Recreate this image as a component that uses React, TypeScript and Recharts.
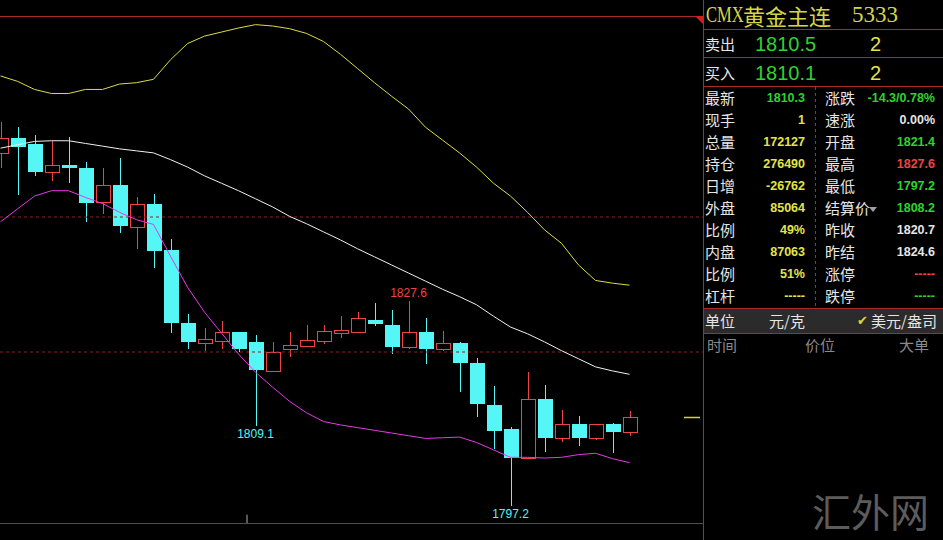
import React from 'react';
import {
  ComposedChart,
  Bar,
  Line,
  XAxis,
  YAxis,
  ReferenceLine,
  ReferenceDot,
} from 'recharts';

// candle values (index 0 is the clipped candle at the left edge)
const openPx = [1849.5, 1851.7, 1850.8, 1846.7, 1847.7, 1847.3, 1842.2, 1844.7, 1838.5, 1842.0, 1835.1, 1824.3, 1821.4, 1821.7, 1822.9, 1821.5, 1817.2, 1820.5, 1820.9, 1821.6, 1822.8, 1823.0, 1824.8, 1824.0, 1820.8, 1822.9, 1820.5, 1821.3, 1818.4, 1812.1, 1808.6, 1804.3, 1813.0, 1807.3, 1809.4, 1807.3, 1809.4, 1808.2];
const highPx = [1854.1, 1853.4, 1852.1, 1851.2, 1851.9, 1848.2, 1847.2, 1848.8, 1843.0, 1843.4, 1836.7, 1825.7, 1823.5, 1824.6, 1823.0, 1822.5, 1821.5, 1822.9, 1824.0, 1824.0, 1825.3, 1825.9, 1827.3, 1826.2, 1827.6, 1825.1, 1823.1, 1821.5, 1819.1, 1815.0, 1808.9, 1817.1, 1815.1, 1811.4, 1810.5, 1809.4, 1809.5, 1811.2];
const lowPx = [1847.3, 1843.3, 1846.1, 1845.4, 1845.1, 1839.2, 1840.5, 1837.6, 1835.2, 1832.5, 1822.8, 1820.4, 1820.2, 1820.5, 1820.0, 1809.1, 1817.2, 1819.2, 1820.8, 1821.2, 1822.1, 1823.0, 1823.9, 1819.7, 1820.5, 1818.2, 1820.1, 1814.1, 1810.4, 1805.7, 1797.2, 1804.3, 1805.2, 1806.6, 1806.1, 1806.9, 1805.0, 1807.6];
const closePx = [1851.7, 1850.4, 1846.6, 1847.7, 1847.3, 1842.1, 1844.7, 1838.6, 1841.9, 1835.0, 1824.3, 1821.5, 1821.9, 1822.9, 1820.5, 1817.3, 1820.0, 1821.0, 1821.8, 1823.1, 1823.2, 1825.0, 1824.1, 1820.8, 1822.9, 1820.5, 1821.3, 1818.3, 1812.3, 1808.3, 1804.3, 1813.1, 1807.3, 1809.4, 1807.3, 1809.4, 1808.2, 1810.3];

// bollinger-style bands
const upperBand = [1860.9, 1860.1, 1858.9, 1858.3, 1858.3, 1858.9, 1858.9, 1859.7, 1859.9, 1860.4, 1863.3, 1865.7, 1866.8, 1867.4, 1868.0, 1868.5, 1868.3, 1867.9, 1867.2, 1866.0, 1864.1, 1862.0, 1859.9, 1857.9, 1856.0, 1853.3, 1851.4, 1849.5, 1847.4, 1845.0, 1843.1, 1840.7, 1838.1, 1836.1, 1832.9, 1830.6, 1830.2, 1829.9];
const midBand = [1850.2, 1850.7, 1851.2, 1851.3, 1851.3, 1850.9, 1850.5, 1850.1, 1849.8, 1849.5, 1848.5, 1847.4, 1846.1, 1845.0, 1843.9, 1842.7, 1841.5, 1840.1, 1839.0, 1837.8, 1836.6, 1835.3, 1834.1, 1832.9, 1831.7, 1830.5, 1829.3, 1828.2, 1827.0, 1825.3, 1823.7, 1822.7, 1821.5, 1820.2, 1819.0, 1817.8, 1817.2, 1816.7];
const lowerBand = [1839.3, 1841.2, 1843.1, 1843.9, 1843.9, 1842.9, 1842.0, 1840.7, 1839.6, 1838.9, 1834.2, 1829.6, 1825.9, 1822.8, 1819.7, 1817.0, 1814.8, 1812.7, 1811.0, 1809.7, 1809.2, 1808.8, 1808.4, 1808.0, 1807.6, 1807.2, 1807.3, 1807.4, 1806.6, 1805.5, 1804.4, 1804.4, 1804.3, 1804.4, 1804.8, 1805.0, 1804.2, 1803.6];

const gridLevels = [1840, 1820];
const extremeMarks = [
  { i: 24, v: 1827.6, side: 'top', up: true },
  { i: 15, v: 1809.1, side: 'bottom', up: false },
  { i: 30, v: 1797.2, side: 'bottom', up: false },
];
const lastPrice = 1810.3;
const sessionBreak = 14.5;

// quote panel text
const titleName = ['CMX', '黄金主连', '5333'];
const bidAsk = [
  { label: '卖出', price: '1810.5', qty: '2' },
  { label: '买入', price: '1810.1', qty: '2' },
];
const leftLabels = ['最新', '现手', '总量', '持仓', '日增', '外盘', '比例', '内盘', '比例', '杠杆'];
const leftValues = ['1810.3', '1', '172127', '276490', '-26762', '85064', '49%', '87063', '51%', '-----'];
const rightLabels = ['涨跌', '速涨', '开盘', '最高', '最低', '结算价', '昨收', '昨结', '涨停', '跌停'];
const rightValues = ['-14.3/0.78%', '0.00%', '1821.4', '1827.6', '1797.2', '1808.2', '1820.7', '1824.6', '-----', '-----'];

const RED = '#ec4444';
const CYAN = '#54f6f6';
const GREEN = '#2fd22f';
const YEL = '#e4e44a';
const WHITE = '#e6e6e6';
const FRAME = '#a82a2a';

const leftColors = [GREEN, YEL, YEL, YEL, YEL, YEL, YEL, YEL, YEL, YEL];
const rightColors = [GREEN, WHITE, GREEN, RED, GREEN, GREEN, WHITE, WHITE, RED, GREEN];

const CHART_W = 703;
const CHART_H = 540;
const STEP = 17;
const xDomain = [(0 - 0.5) / STEP, (CHART_W - 0.5) / STEP];
const yDomain = [1792.15, 1872.15];

const rows = openPx.map((o, i) => ({
  i,
  open: o,
  high: highPx[i],
  low: lowPx[i],
  close: closePx[i],
  range: [lowPx[i], highPx[i]],
  upper: upperBand[i],
  mid: midBand[i],
  lower: lowerBand[i],
}));

function Candle(props: any) {
  const { x, y, width, height, payload } = props;
  if (payload == null || height == null) return null;
  const { open, high, low, close } = payload;
  const k = height / (high - low);
  const yAt = (v: number) => y + (high - v) * k;
  const cx = Math.round(x + width / 2) + 0.5;
  const top = Math.round(yAt(Math.max(open, close)));
  const bottom = Math.round(yAt(Math.min(open, close)));
  const yHigh = Math.round(yAt(high));
  const yLow = Math.round(yAt(low));
  if (close >= open) {
    return (
      <g>
        <line x1={cx} x2={cx} y1={yHigh} y2={top} stroke={RED} />
        <line x1={cx} x2={cx} y1={bottom} y2={yLow} stroke={RED} />
        <rect x={cx - 7} y={top + 0.5} width={14} height={Math.max(bottom - top, 1)} fill="#000" stroke={RED} />
      </g>
    );
  }
  return (
    <g>
      <line x1={cx} x2={cx} y1={yHigh} y2={yLow} stroke={CYAN} />
      <rect x={cx - 7.5} y={top} width={15} height={Math.max(bottom - top, 2)} fill={CYAN} />
    </g>
  );
}

function T({ x, y, size, color, children, right, bold, family, style }: any) {
  const s: any = {
    position: 'absolute',
    top: y - size * 0.6,
    fontSize: size,
    lineHeight: `${size * 1.2}px`,
    color,
    whiteSpace: 'nowrap',
    fontWeight: bold ? 700 : 400,
    fontFamily: family || '"Noto Sans CJK SC", sans-serif',
    ...style,
  };
  if (right) s.right = 943 - x;
  else s.left = x;
  return <div style={s}>{children}</div>;
}

const NUM = '"Liberation Sans", Arial, sans-serif';

function Hline({ y, x1 = 703, x2 = 943, color = FRAME }: any) {
  return <div style={{ position: 'absolute', left: x1, top: y, width: x2 - x1, height: 1, background: color }} />;
}

export default function App() {
  return (
    <div
      style={{
        position: 'fixed',
        left: 0,
        top: 0,
        width: 943,
        height: 540,
        background: '#000',
        overflow: 'hidden',
        fontFamily: NUM,
      }}
    >
      <div style={{ position: 'absolute', left: 0, top: 0 }}>
        <ComposedChart
          width={CHART_W}
          height={CHART_H}
          data={rows}
          margin={{ top: 0, right: 0, bottom: 0, left: 0 }}
          style={{ fontFamily: NUM }}
        >
          <XAxis dataKey="i" type="number" domain={xDomain} hide allowDataOverflow />
          <YAxis type="number" domain={yDomain} hide allowDataOverflow />
          {gridLevels.map((g) => (
            <ReferenceLine key={g} y={g} stroke="#8e2020" strokeDasharray="3 3" />
          ))}
          <Bar dataKey="range" shape={Candle} barSize={15} isAnimationActive={false} />
          <Line type="linear" dataKey="upper" stroke="#dcdc48" strokeWidth={1} dot={false} isAnimationActive={false} />
          <Line type="linear" dataKey="mid" stroke="#f0f0f0" strokeWidth={1} dot={false} isAnimationActive={false} />
          <Line type="linear" dataKey="lower" stroke="#e838e8" strokeWidth={1} dot={false} isAnimationActive={false} />
          {extremeMarks.map((m) => (
            <ReferenceDot
              key={m.i}
              x={m.i}
              y={m.v}
              r={0}
              fill="none"
              stroke="none"
              label={{
                value: m.v.toFixed(1),
                position: m.side as any,
                offset: 4,
                fill: m.up ? RED : CYAN,
                fontSize: 12,
              }}
            />
          ))}
          <ReferenceLine
            segment={[
              { x: 40.2, y: lastPrice },
              { x: 41.15, y: lastPrice },
            ]}
            stroke="#d0d828"
            strokeWidth={1.5}
          />
          <ReferenceLine
            segment={[
              { x: sessionBreak, y: 1795.9 },
              { x: sessionBreak, y: 1794.6 },
            ]}
            stroke="#b0b0b0"
          />
        </ComposedChart>
      </div>

      {/* frame */}
      <Hline y={16} x1={0} x2={703} />
      <Hline y={523} x1={0} x2={703} />
      <div style={{ position: 'absolute', left: 703, top: 0, width: 1, height: 540, background: FRAME }} />
      <svg style={{ position: 'absolute', left: 0, top: 0 }} width={943} height={40}>
        <polygon points="695,16 703,16 703,24" fill="#d02020" />
      </svg>

      {/* title */}
      <T x={706} y={15} size={23} color="#d6d645" family='"Liberation Serif", serif' style={{ transform: 'scaleX(0.72)', transformOrigin: 'left center' }}>
        {titleName[0]}
      </T>
      <T x={743} y={15} size={22} color="#d6d645">{titleName[1]}</T>
      <T x={852} y={15} size={23} color="#d6d645" family='"Liberation Serif", serif'>{titleName[2]}</T>
      <Hline y={29} />

      {bidAsk.map((r, k) => (
        <React.Fragment key={r.label}>
          <T x={705} y={44 + k * 29} size={15} color={WHITE}>{r.label}</T>
          <T x={755} y={44 + k * 29} size={20} color={GREEN} family={NUM}>{r.price}</T>
          <T x={870} y={44 + k * 29} size={20} color={YEL} family={NUM}>{r.qty}</T>
          <Hline y={57 + k * 29} />
        </React.Fragment>
      ))}

      {leftLabels.map((l, k) => (
        <React.Fragment key={'l' + k}>
          <T x={705} y={98 + k * 22} size={15} color={WHITE}>{l}</T>
          <T x={805} y={98 + k * 22} size={12.5} color={leftColors[k]} family={NUM} bold right>
            {leftValues[k]}
          </T>
          <T x={825} y={98 + k * 22} size={15} color={WHITE}>{rightLabels[k]}</T>
          <T x={935} y={98 + k * 22} size={12.5} color={rightColors[k]} family={NUM} bold right>
            {rightValues[k]}
          </T>
        </React.Fragment>
      ))}
      <svg style={{ position: 'absolute', left: 0, top: 0 }} width={943} height={540}>
        <line x1={815.5} x2={815.5} y1={87} y2={308} stroke={FRAME} strokeDasharray="3 3" />
        <polygon points="869,207 877,207 873,212" fill="#a0a0a0" />
      </svg>

      <div style={{ position: 'absolute', left: 704, top: 309, width: 239, height: 24, background: '#2b2b2b' }} />
      <Hline y={308} />
      <Hline y={333} />
      <T x={705} y={321} size={15} color={WHITE}>单位</T>
      <T x={769} y={321} size={15} color={WHITE}>元/克</T>
      <T x={857} y={321} size={13} color="#d8d840" family='"DejaVu Sans", sans-serif'>✔</T>
      <T x={871} y={321} size={15} color={WHITE}>美元/盎司</T>

      <T x={707} y={345} size={15} color="#8a8a8a">时间</T>
      <T x={805} y={345} size={15} color="#8a8a8a">价位</T>
      <T x={899} y={345} size={15} color="#8a8a8a">大单</T>

      <T x={812} y={510} size={39} color="#5c5c5c">汇外网</T>
    </div>
  );
}
